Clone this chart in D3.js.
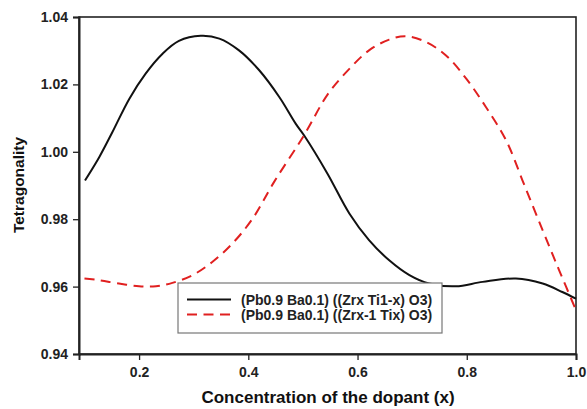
<!DOCTYPE html>
<html lang="en">
<head>
    <meta charset="UTF-8">
    <title>Tetragonality</title>
    <script src="https://d3js.org/d3.v7.min.js"></script>
    <style>
        body { margin: 0; background: #fff; }
        text { font-family: "Liberation Sans", Arial, sans-serif; font-weight: bold; }
    </style>
</head>
<body>
    <svg id="chart" width="587" height="409"></svg>

    <script>
        // values
        const xTicks = [0.2, 0.4, 0.6, 0.8, 1.0];
        const yTicks = [0.94, 0.96, 0.98, 1.00, 1.02, 1.04];

        const blackX = [0.101, 0.127, 0.151, 0.182, 0.212, 0.243, 0.273, 0.313, 0.347, 0.383, 0.420, 0.457, 0.487, 0.502, 0.545, 0.585, 0.621, 0.658, 0.695, 0.731, 0.780, 0.829, 0.890, 0.939, 0.975, 1.0];
        const blackY = [0.9915, 0.9984, 1.0058, 1.0157, 1.0232, 1.0291, 1.0329, 1.0344, 1.0336, 1.0301, 1.0242, 1.0162, 1.0083, 1.0049, 0.9935, 0.9817, 0.9738, 0.9678, 0.9634, 0.9609, 0.9601, 0.9614, 0.9624, 0.9609, 0.9584, 0.9564];

        const redX = [0.1, 0.127, 0.163, 0.200, 0.231, 0.261, 0.298, 0.334, 0.371, 0.408, 0.447, 0.502, 0.546, 0.585, 0.621, 0.658, 0.689, 0.725, 0.762, 0.799, 0.835, 0.872, 0.905, 0.939, 0.969, 1.0];
        const redY = [0.9624, 0.9619, 0.9609, 0.9601, 0.9601, 0.9611, 0.9634, 0.9673, 0.9728, 0.9802, 0.9910, 1.0049, 1.0172, 1.0246, 1.0301, 1.0333, 1.0343, 1.0326, 1.0286, 1.0217, 1.0133, 1.0034, 0.9903, 0.9767, 0.9649, 0.9530];

        const seriesNames = ["(Pb0.9 Ba0.1) ((Zrx Ti1-x) O3)", "(Pb0.9 Ba0.1) ((Zrx-1 Tix) O3)"];

        const svg = d3.select("#chart");
        const margin = { top: 17, right: 11, bottom: 55, left: 79 };
        const width = +svg.attr("width");
        const height = +svg.attr("height");
        const w = width - margin.left - margin.right;
        const h = height - margin.top - margin.bottom;

        const g = svg.append("g")
            .attr("transform", `translate(${margin.left},${margin.top})`);

        const x = d3.scaleLinear().domain([0.09, 1.0]).range([0, w]);
        const y = d3.scaleLinear().domain([0.94, 1.04]).range([h, 0]);

        // frame
        g.append("rect")
            .attr("width", w)
            .attr("height", h)
            .attr("fill", "none")
            .attr("stroke", "#222")
            .attr("stroke-width", 1.6);

        const xAxis = g.append("g")
            .attr("transform", `translate(0,${h})`)
            .call(d3.axisBottom(x).tickValues(xTicks).tickFormat(d3.format(".1f")).tickSize(6).tickPadding(7));

        const yAxis = g.append("g")
            .call(d3.axisLeft(y).tickValues(yTicks).tickFormat(d3.format(".2f")).tickSize(6).tickPadding(5));

        [xAxis, yAxis].forEach(ax => {
            ax.select(".domain").attr("stroke", "#222").attr("stroke-width", 2);
            ax.selectAll(".tick line").attr("stroke", "#222").attr("stroke-width", 1.3);
            ax.selectAll(".tick text")
                .attr("fill", "#222")
                .style("font-size", "14px")
                .style("font-family", "'Liberation Sans', Arial, sans-serif")
                .style("font-weight", "bold");
        });

        const line = d3.line()
            .x(d => x(d[0]))
            .y(d => y(d[1]))
            .curve(d3.curveCatmullRom.alpha(0.5));

        g.append("path")
            .datum(blackX.map((v, i) => [v, blackY[i]]))
            .attr("d", line)
            .attr("fill", "none")
            .attr("stroke", "#111")
            .attr("stroke-width", 2);

        g.append("path")
            .datum(redX.map((v, i) => [v, redY[i]]))
            .attr("d", line)
            .attr("fill", "none")
            .attr("stroke", "#e02020")
            .attr("stroke-width", 2)
            .attr("stroke-dasharray", "10,6.5");

        // legend
        const lg = svg.append("g").attr("transform", "translate(178,283)");
        lg.append("rect")
            .attr("width", 264)
            .attr("height", 50)
            .attr("fill", "#fff")
            .attr("stroke", "#777")
            .attr("stroke-width", 1.2);

        const legendStyle = [
            { color: "#111", dash: null },
            { color: "#e02020", dash: "10,6.5" }
        ];
        seriesNames.forEach((name, i) => {
            const yy = 16.5 + i * 15;
            lg.append("line")
                .attr("x1", 9).attr("x2", 53)
                .attr("y1", yy).attr("y2", yy)
                .attr("stroke", legendStyle[i].color)
                .attr("stroke-width", 2)
                .attr("stroke-dasharray", legendStyle[i].dash);
            lg.append("text")
                .attr("x", 63)
                .attr("y", yy + 5)
                .attr("fill", "#222")
                .style("font-size", "14px")
                .text(name);
        });

        // axis titles
        svg.append("text")
            .attr("x", 328)
            .attr("y", 403)
            .attr("text-anchor", "middle")
            .attr("fill", "#111")
            .style("font-size", "17px")
            .text("Concentration of the dopant (x)");

        svg.append("text")
            .attr("text-anchor", "middle")
            .attr("transform", "translate(24,185)rotate(-90)")
            .attr("fill", "#111")
            .style("font-size", "15.5px")
            .text("Tetragonality");
    </script>
</body>
</html>
